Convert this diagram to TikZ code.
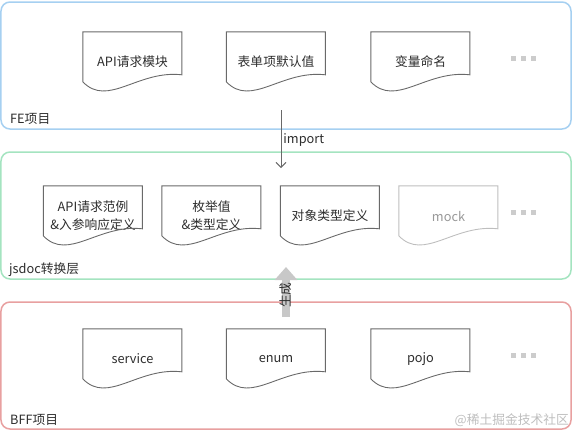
\documentclass[tikz,border=0pt]{standalone}
\usepackage{fontspec}
\setmainfont{Noto Sans CJK SC}
\usetikzlibrary{arrows.meta}
\definecolor{feblue}{RGB}{166,208,241}
\definecolor{jsgreen}{RGB}{164,228,192}
\definecolor{bffred}{RGB}{232,160,160}
\definecolor{txtgray}{RGB}{45,45,45}
\definecolor{linegray}{RGB}{105,105,105}
\definecolor{mockgray}{RGB}{190,190,190}
\definecolor{dotgray}{RGB}{204,204,204}
\definecolor{arrgray}{RGB}{200,200,200}
\definecolor{wmgray}{RGB}{190,190,190}
\begin{document}
\begin{tikzpicture}[x=1bp,y=-1bp,
 every node/.style={font=\fontsize{12.8}{18}\selectfont,text=txtgray},
 layer/.style={draw=#1,line width=1.5bp,rounded corners=9bp,
  minimum width=570bp,minimum height=127bp,inner sep=0},
 doc/.style={minimum width=99bp,minimum height=60bp,inner sep=0,align=center},
 tag/.style={anchor=west,inner sep=0},
 dot/.style={fill=dotgray,minimum size=5bp,inner sep=0}]%
\global\def\docdraw#1#2{\draw[#2,line width=0.9bp,shift={(#1.north west)}]
 (0,0) -- (99,0) -- (99,43)
 .. controls (55,38) and (25,76) .. (0,50) -- cycle;}
\useasboundingbox (0,0) rectangle (572,431);
% layers
\node[layer=feblue] (fe) at (286,65.5) {};
\node[layer=jsgreen] (js) at (286,215.5) {};
\node[layer=bffred] (bff) at (286,365.5) {};
\node[tag] (felbl) at (10,119) {FE项目};
\node[tag] (jslbl) at (9,270) {jsdoc转换层};
\node[tag] (bfflbl) at (10,420) {BFF项目};
% FE
\node[doc] (api) at (132.5,62) {API请求模块};
\node[doc] (form) at (276,62) {表单项默认值};
\node[doc] (var) at (420.5,62) {变量命名};
\docdraw{api}{linegray}
\docdraw{form}{linegray}
\docdraw{var}{linegray}
% jsdoc
\node[doc] (apidef) at (93,216) {API请求范例\\\&入参响应定义};
\node[doc] (enumdef) at (211.5,216) {枚举值\\\&类型定义};
\node[doc] (objdef) at (330,216) {对象类型定义};
\node[doc,text=mockgray!80!black] (mock) at (448.5,216) {mock};
\docdraw{apidef}{linegray}
\docdraw{enumdef}{linegray}
\docdraw{objdef}{linegray}
\docdraw{mock}{mockgray}
% BFF
\node[doc] (service) at (132.5,359) {service};
\node[doc] (enum) at (276,359) {enum};
\node[doc] (pojo) at (420.5,359) {pojo};
\docdraw{service}{linegray}
\docdraw{enum}{linegray}
\docdraw{pojo}{linegray}
% more
\foreach \r/\y in {fe/58,js/212,bff/355}
 \foreach \i in {0,1,2}
  \node[dot] (dot\r\i) at (513+10*\i,\y) {};
% import
\coordinate (imp0) at (281,110);
\coordinate (imp1) at (281,168);
\draw[linegray,line width=0.9bp,-{Straight Barb[length=5bp,width=10bp]}]
 (imp0) -- (imp1) node[pos=0.52,right,inner sep=2bp] (implbl) {import};
% generate
\coordinate (gen0) at (286,317);
\coordinate (gen1) at (286,267);
\draw[arrgray,line width=8bp,-{Triangle[length=13bp,width=22bp]}] (gen0) -- (gen1);
\node[rotate=90,inner sep=0] (genlbl) at (286,295) {生成};
\node[anchor=east,inner sep=0,text=wmgray] (wm) at (569,420) {@稀土掘金技术社区};
\end{tikzpicture}
\end{document}
